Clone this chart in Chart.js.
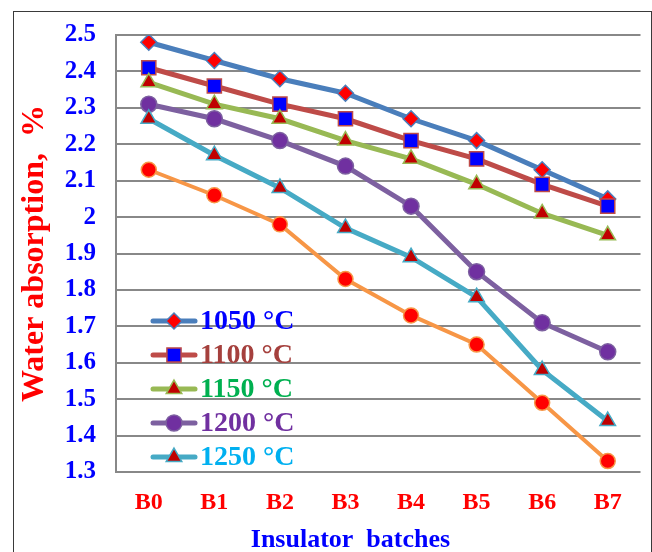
<!DOCTYPE html>
<html>
<head>
<meta charset="utf-8">
<script src="https://cdn.jsdelivr.net/npm/chart.js@4/dist/chart.umd.min.js"></script>
<style>
  html, body { margin: 0; padding: 0; background: #fff; }
  #wrap { width: 652px; height: 552px; position: relative; }
</style>
</head>
<body>
<div id="wrap"><canvas id="chart"></canvas></div>
<script>
const categories = ["B0", "B1", "B2", "B3", "B4", "B5", "B6", "B7"]
const yTickValues = [1.3, 1.4, 1.5, 1.6, 1.7, 1.8, 1.9, 2.0, 2.1, 2.2, 2.3, 2.4, 2.5]
const yTickLabels = ["1.3", "1.4", "1.5", "1.6", "1.7", "1.8", "1.9", "2", "2.1", "2.2", "2.3", "2.4", "2.5"]

const t1050 = [2.48, 2.43, 2.38, 2.34, 2.27, 2.21, 2.13, 2.05]
const t1100 = [2.41, 2.36, 2.31, 2.27, 2.21, 2.16, 2.09, 2.03]
const t1150 = [2.37, 2.31, 2.27, 2.21, 2.16, 2.09, 2.01, 1.95]
const t1200 = [2.31, 2.27, 2.21, 2.14, 2.03, 1.85, 1.71, 1.63]
const t1250 = [2.27, 2.17, 2.08, 1.97, 1.89, 1.78, 1.58, 1.44]
const t1300 = [2.13, 2.06, 1.98, 1.83, 1.73, 1.65, 1.49, 1.33]

const serif = "'Liberation Serif', 'DejaVu Serif', serif"

function series(label, data, line, style, fill, radius, textColor, width) {
  return {
    label: label,
    data: data,
    borderColor: line,
    backgroundColor: fill,
    borderWidth: width || 5,
    pointStyle: style,
    pointRadius: radius,
    pointBackgroundColor: fill,
    pointBorderColor: line,
    pointBorderWidth: 1.5,
    tension: 0,
    fill: false,
    textColor: textColor,
  }
}

const datasets = [
  series("1050 °C", t1050, "#4a7ebb", "rectRot", "#ff0000", 8, "#0000ff"),
  series("1100 °C", t1100, "#be4b48", "rect", "#0000ff", 10, "#a5403d"),
  series("1150 °C", t1150, "#98b954", "triangle", "#c00000", 9, "#00b050"),
  series("1200 °C", t1200, "#7d60a0", "circle", "#7030a0", 8, "#7030a0"),
  series("1250 °C", t1250, "#46aac5", "triangle", "#c00000", 9, "#00b0f0"),
  series("1300 °C", t1300, "#f79646", "circle", "#ff0000", 7.5, null, 4),
]
// later series on top, like the original
datasets.forEach((d, i) => { d.order = datasets.length - i })

// white background and outer frame
const framePlugin = {
  id: "frame",
  beforeDraw(chart) {
    const ctx = chart.ctx
    ctx.save()
    ctx.fillStyle = "#fff"
    ctx.fillRect(0, 0, chart.width, chart.height)
    ctx.strokeStyle = "#3a3a3a"
    ctx.lineWidth = 1
    ctx.strokeRect(13.5, 11.5, chart.width - 14, chart.height + 20)
    ctx.restore()
  },
}

// legend inside the plot, bottom-left, coloured text
const innerLegend = {
  id: "innerLegend",
  afterDatasetsDraw(chart) {
    const ctx = chart.ctx
    const area = chart.chartArea
    const x0 = area.left + 37
    const lineLen = 42
    let y = area.bottom - 151
    ctx.save()
    ctx.font = "bold 28px " + serif
    ctx.textBaseline = "middle"
    chart.data.datasets.slice(0, 5).forEach((ds) => {
      ctx.strokeStyle = ds.borderColor
      ctx.lineWidth = ds.borderWidth
      ctx.lineCap = "round"
      ctx.beginPath()
      ctx.moveTo(x0, y)
      ctx.lineTo(x0 + lineLen, y)
      ctx.stroke()
      ctx.fillStyle = ds.pointBackgroundColor
      ctx.strokeStyle = ds.pointBorderColor
      ctx.lineWidth = ds.pointBorderWidth
      Chart.helpers.drawPoint(ctx, {
        pointStyle: ds.pointStyle,
        radius: ds.pointRadius,
        rotation: 0,
        borderWidth: ds.pointBorderWidth,
      }, x0 + lineLen / 2, y)
      ctx.fillStyle = ds.textColor
      ctx.textAlign = "left"
      ctx.fillText(ds.label, x0 + lineLen + 5, y + 1)
      y += 34
    })
    ctx.restore()
  },
}

// x axis title, sits a bit left of centre in the original
const xTitle = {
  id: "xTitle",
  afterDraw(chart) {
    const ctx = chart.ctx
    const xs = chart.scales.x
    ctx.save()
    ctx.font = "bold 26px " + serif
    ctx.fillStyle = "#0000ff"
    ctx.textAlign = "center"
    ctx.textBaseline = "middle"
    ctx.fillText("Insulator  batches", xs.getPixelForValue(3) + 5, chart.height - 12)
    ctx.restore()
  },
}

new Chart(document.getElementById("chart"), {
  type: "line",
  data: { labels: categories, datasets: datasets },
  plugins: [framePlugin, innerLegend, xTitle],
  options: {
    responsive: true,
    maintainAspectRatio: false,
    animation: false,
    layout: { padding: { left: 14, top: 33, right: 4, bottom: 0 } },
    plugins: {
      legend: { display: false },
      tooltip: { enabled: false },
    },
    scales: {
      x: {
        offset: true,
        afterFit(scale) { scale.height = 80 },
        grid: { display: false, drawTicks: false },
        border: { display: false },
        ticks: {
          color: "#ff0000",
          padding: 16,
          font: { family: serif, size: 24, weight: "bold" },
        },
      },
      y: {
        min: 1.3,
        max: 2.5,
        afterFit(scale) { scale.width = 102 },
        afterBuildTicks(scale) { scale.ticks = yTickValues.map((v) => ({ value: v })) },
        grid: { color: "#888888", lineWidth: 2, drawTicks: false },
        border: { display: true, color: "#888888", width: 2 },
        ticks: {
          color: "#0000ff",
          padding: 20,
          font: { family: serif, size: 25, weight: "bold" },
          callback: (v, i) => yTickLabels[i],
        },
        title: {
          display: true,
          text: "Water absorption,  %",
          color: "#ff0000",
          padding: { top: 2, bottom: 0 },
          font: { family: serif, size: 32, weight: "bold" },
        },
      },
    },
  },
})
</script>
</body>
</html>
